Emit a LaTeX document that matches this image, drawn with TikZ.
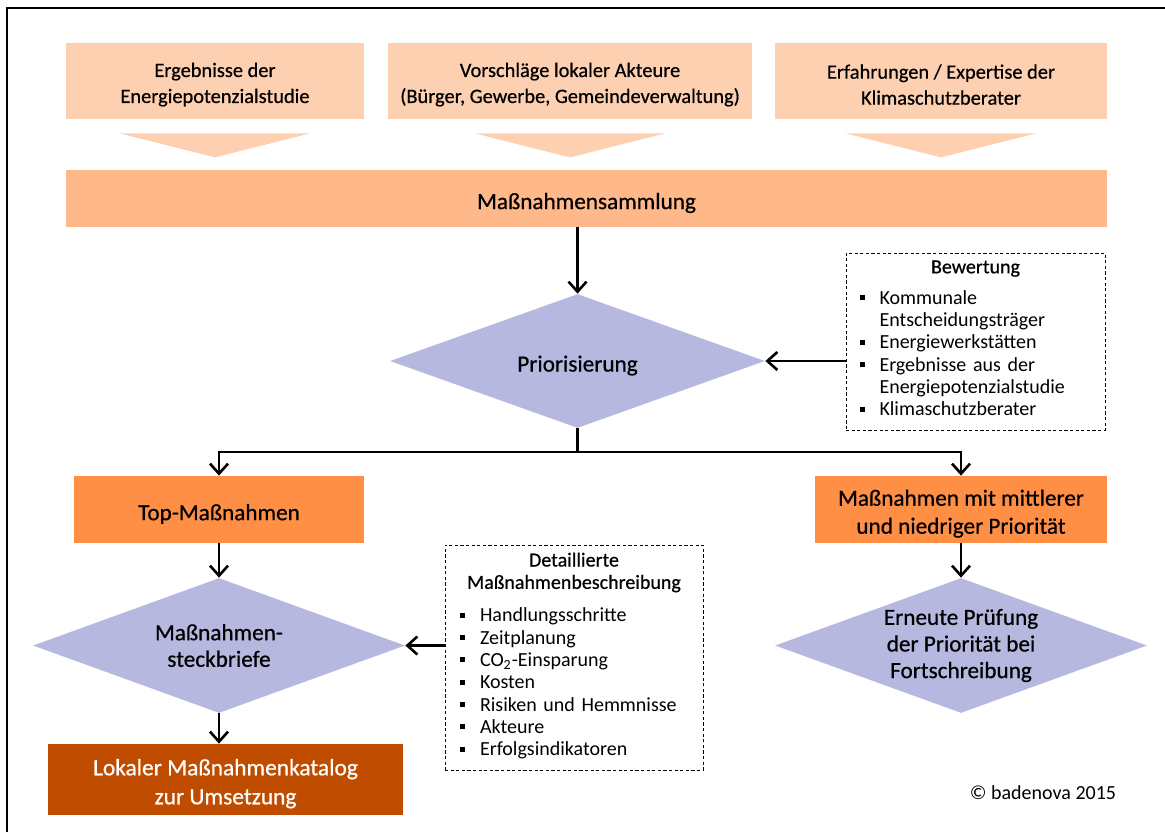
\documentclass[tikz,border=0pt]{standalone}
\usepackage{fontspec}
\setmainfont{Carlito}
\newfontfamily\headfont{Carlito}[FakeBold=0.6]
\usetikzlibrary{arrows.meta, shapes.geometric}
\definecolor{peach}{RGB}{253,208,177}
\definecolor{apricot}{RGB}{255,184,137}
\definecolor{tangerine}{RGB}{255,143,69}
\definecolor{rust}{RGB}{192,76,0}
\definecolor{lavender}{RGB}{182,184,224}
\tikzset{src box/.style={rectangle,fill=peach,align=center,inner sep=0pt,font=\headfont\fontsize{10.2}{13}\selectfont,
     execute at begin node={\rule{0pt}{1.08em}}},
  big box/.style={src box,font=\headfont\fontsize{11.6}{14}\selectfont},
  check node/.style={diamond,fill=lavender,aspect=2.8,inner sep=-8pt,align=center,font=\headfont\fontsize{11.6}{13.3}\selectfont,
     execute at begin node={\rule{0pt}{1.08em}}},
  note box/.style={rectangle,draw,dashed,dash pattern=on 1.6pt off 1.2pt,line width=0.5pt,inner sep=0pt,align=left,font=\fontsize{10}{11.15}\selectfont},
  flow/.style={line width=1.3pt,-{Straight Barb[length=5pt,width=9pt]}},
}
\newcommand{\bul}{\makebox[10pt][l]{\rule[0.2em]{2.5pt}{2.5pt}}}
\newcommand{\cont}{\hspace*{10pt}}
\newcommand{\topstrut}{\rule{0pt}{1.05em}}

\begin{document}
\begin{tikzpicture}[x=0.5pt, y=-0.5pt]
   \useasboundingbox (0,0) rectangle (1165,832);
   \draw[line width=1.3pt] (7,832) -- (7,8) -- (1165,8);
   % sources
   \node[src box, minimum width=149pt, minimum height=38pt] (src1) at (215,81) {\topstrut Ergebnisse der\\Energiepotenzialstudie};
   \node[src box, minimum width=182pt, minimum height=38pt] (src2) at (570,81) {\topstrut Vorschläge lokaler Akteure\\(Bürger, Gewerbe, Gemeindeverwaltung)};
   \node[src box, minimum width=166pt, minimum height=38pt] (src3) at (941,81) {\topstrut Erfahrungen / Expertise der\\Klimaschutzberater};
   \foreach \s in {src1,src2,src3}
      \fill[peach] ([xshift=-47.5pt,yshift=-7pt]\s.south) -- ([xshift=47.5pt,yshift=-7pt]\s.south) -- ([yshift=-19pt]\s.south) -- cycle;
   \node[big box, fill=apricot, minimum width=520.5pt, minimum height=28.5pt] (sammlung) at (586.5,198.5) {Maßnahmensammlung};
   % prioritising
   \node[check node, minimum width=187.5pt, minimum height=67pt] (prio) at (577.5,361) {Priorisierung};
   \node[note box, minimum width=129.5pt, minimum height=88.5pt, text width=116pt] (bew) at (975.5,341.5)
      {{\centering\headfont Bewertung\par}\vspace{5pt}\noindent
       \begin{tabular}{@{}l@{}}\bul Kommunale\\\cont Entscheidungsträger\\\bul Energiewerkstätten\\\bul Ergebnisse aus der\\
       \cont Energiepotenzialstudie\\\bul Klimaschutzberater\end{tabular}};
   \coordinate (split) at (577.5,452);
   % results
   \node[big box, fill=tangerine, minimum width=145pt, minimum height=33.5pt] (top) at (219,509.5) {Top-Maßnahmen};
   \node[big box, fill=tangerine, minimum width=146pt, minimum height=33.5pt] (mid) at (961,509.5) {\topstrut Maßnahmen mit mittlerer\\und niedriger Priorität};
   \node[check node, minimum width=186pt, minimum height=67.5pt] (steck) at (219,645.5) {Maßnahmen-\\steckbriefe};
   \node[check node, minimum width=186pt, minimum height=67.5pt] (pruef) at (961,645.5) {Erneute Prüfung\\der Priorität bei\\Fortschreibung};
   \node[note box, minimum width=129pt, minimum height=112.5pt, text width=114pt] (detail) at (574,657.5)
      {{\centering\headfont Detaillierte\\Maßnahmenbeschreibung\par}\vspace{6pt}\noindent
       \begin{tabular}{@{}l@{}}\bul Handlungsschritte\\\bul Zeitplanung\\\bul CO\textsubscript{2}-Einsparung\\\bul Kosten\\
       \bul Risiken und Hemmnisse\\\bul Akteure\\\bul Erfolgsindikatoren\end{tabular}};
   \node[big box, fill=rust, text=white, minimum width=177.5pt, minimum height=35.5pt, font=\headfont\fontsize{11.7}{14.5}\selectfont] (katalog) at (225.5,779.5) {\topstrut Lokaler Maßnahmenkatalog\\zur Umsetzung};
   \node[font=\fontsize{10}{12}\selectfont] (copy) at (1043,793) {© badenova 2015};
   % connectors
   \draw[flow] (prio.north |- sammlung.south) -- (prio.north);
   \draw[flow] (bew.west |- prio.east) -- (prio.east);
   \draw[line width=1.3pt] (prio.south) -- (split);
   \draw[flow] (split) -| (top.north);
   \draw[flow] (split) -| (mid.north);
   \draw[flow] (top.south) -- (steck.north);
   \draw[flow] (detail.west |- steck.east) -- (steck.east);
   \draw[flow] (steck.south) -- (steck.south |- katalog.north);
   \draw[flow] (mid.south) -- (pruef.north);
\end{tikzpicture}
\end{document}
